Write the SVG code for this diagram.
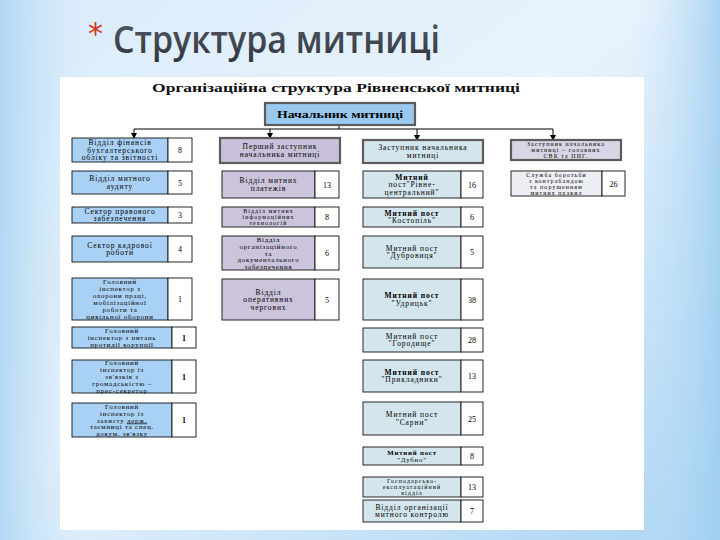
<svg xmlns="http://www.w3.org/2000/svg" width="720" height="540" viewBox="0 0 720 540">
<defs>
<linearGradient id="bg" x1="0" y1="0" x2="1" y2="1">
<stop offset="0" stop-color="#d9ecfa"/>
<stop offset="0.45" stop-color="#e8f3fc"/>
<stop offset="1" stop-color="#a9d3f3"/>
</linearGradient>
<linearGradient id="bgL" x1="0" y1="0" x2="1" y2="0">
<stop offset="0" stop-color="#a8d2f2" stop-opacity="0.8"/>
<stop offset="0.12" stop-color="#c9e4f8" stop-opacity="0"/>
<stop offset="0.88" stop-color="#c9e4f8" stop-opacity="0"/>
<stop offset="1" stop-color="#9ccdf1" stop-opacity="0.8"/>
</linearGradient>
<linearGradient id="tg" x1="0" y1="0" x2="0" y2="1">
<stop offset="0" stop-color="#5a606a"/>
<stop offset="1" stop-color="#2e333b"/>
</linearGradient>
<marker id="ah" viewBox="0 0 6 6" refX="5" refY="3" markerWidth="6" markerHeight="6" orient="auto" markerUnits="userSpaceOnUse">
<path d="M0,0 L6,3 L0,6 z" fill="#000"/>
</marker>
<style>
.t{font-family:"Liberation Serif","Times New Roman",serif;font-size:7.5px;letter-spacing:0.9px;fill:#000;text-anchor:middle}
.s{font-family:"Liberation Serif","Times New Roman",serif;font-size:6.8px;letter-spacing:0.8px;fill:#000;text-anchor:middle}
.x{font-family:"Liberation Serif","Times New Roman",serif;font-size:5.9px;letter-spacing:1.1px;fill:#000;text-anchor:middle}
.n{font-family:"Liberation Serif","Times New Roman",serif;font-size:8px;fill:#000;text-anchor:middle}
.h{font-family:"Liberation Serif","Times New Roman",serif;font-size:10px;font-weight:bold;fill:#000;text-anchor:middle}
.c1{fill:#a9d1f5;stroke:#111;stroke-width:0.9}
.c2{fill:#cbc4db;stroke:#111;stroke-width:0.9}
.c3{fill:#d3e6ee;stroke:#111;stroke-width:0.9}
.c4{fill:#eeeef5;stroke:#111;stroke-width:0.9}
.num{fill:#fff;stroke:#111;stroke-width:0.9}
.hd{stroke:#5c5c5c;stroke-width:2.2}
.ln{fill:none;stroke:#000;stroke-width:1}
</style>
</defs>
<rect width="720" height="540" fill="url(#bg)"/>
<rect width="720" height="540" fill="url(#bgL)"/>
<rect x="60" y="77" width="584" height="453" fill="#fff"/>

<g id="title">
<text x="88" y="44" font-family="'DejaVu Sans',sans-serif" font-size="30" fill="#d23a22">*</text>
<text x="113" y="53" font-family="'Open Sans','DejaVu Sans',sans-serif" font-size="38" font-weight="600" fill="url(#tg)" textLength="327" lengthAdjust="spacingAndGlyphs">Структура митниці</text>
</g>

<g id="subtitle">
<text x="336" y="92" font-family="'Liberation Serif','Times New Roman',serif" font-size="11.5" font-weight="bold" fill="#111" text-anchor="middle" textLength="368" lengthAdjust="spacingAndGlyphs">Організаційна структура Рівненської митниці</text>
</g>

<g id="connectors">
<path class="ln" d="M339,125 V129 M134,129 H553"/>
<path class="ln" d="M134,129 V138" marker-end="url(#ah)"/>
<path class="ln" d="M270,129 V138" marker-end="url(#ah)"/>
<path class="ln" d="M417,129 V140" marker-end="url(#ah)"/>
<path class="ln" d="M553,129 V140" marker-end="url(#ah)"/>
</g>

<g id="chief">
<rect x="265" y="103" width="150" height="22" fill="#99c9ee" class="hd"/>
<text x="340" y="117.8" class="h" textLength="126" lengthAdjust="spacingAndGlyphs">Начальник митниці</text>
</g>

<!-- Column 1 -->
<g id="n1-1">
<rect x="72" y="138" width="96" height="24" class="c1"/><rect x="168" y="138" width="24" height="24" class="num"/>
<text class="t" x="120" y="145">Відділ    фінансів</text><text class="t" x="120" y="152.5">бухгалтерського</text><text class="t" x="120" y="160">обліку та звітності</text>
<text class="n" x="180" y="153">8</text>
</g>
<g id="n1-2">
<rect x="72" y="171" width="96" height="23" class="c1"/><rect x="168" y="171" width="24" height="23" class="num"/>
<text class="t" x="120" y="181.3">Відділ митного</text><text class="t" x="120" y="188.8">аудиту</text>
<text class="n" x="180" y="185.5">5</text>
</g>
<g id="n1-3">
<rect x="72" y="207" width="96" height="16" class="c1"/><rect x="168" y="207" width="24" height="16" class="num"/>
<text class="t" x="120" y="213.8">Сектор правового</text><text class="t" x="120" y="221.3">забезпечення</text>
<text class="n" x="180" y="218">3</text>
</g>
<g id="n1-4">
<rect x="72" y="236" width="96" height="26" class="c1"/><rect x="168" y="236" width="24" height="26" class="num"/>
<text class="t" x="120" y="247.8">Сектор кадрової</text><text class="t" x="120" y="255.3">роботи</text>
<text class="n" x="180" y="252">4</text>
</g>
<g id="n1-5">
<rect x="72" y="278" width="96" height="42" class="c1"/><rect x="168" y="278" width="24" height="42" class="num"/>
<text class="s" x="120" y="284">Головний</text><text class="s" x="120" y="291">інспектор з</text><text class="s" x="120" y="298">охорони праці,</text><text class="s" x="120" y="305">мобілізаційної</text><text class="s" x="120" y="312">роботи та</text><text class="s" x="120" y="319">цивільної оборони</text>
<text class="n" x="180" y="302">1</text>
</g>
<g id="n1-6">
<rect x="72" y="327" width="100" height="21" class="c1"/><rect x="172" y="327" width="24" height="21" class="num"/>
<text class="s" x="122" y="333">Головний</text><text class="s" x="122" y="340">інспектор з питань</text><text class="s" x="122" y="347">протидії корупції</text>
<text class="n" x="184" y="340.5" font-weight="bold">1</text>
</g>
<g id="n1-7">
<rect x="72" y="360" width="100" height="33" class="c1"/><rect x="172" y="360" width="24" height="33" class="num"/>
<text class="s" x="122" y="365.4">Головний</text><text class="s" x="122" y="372.2">інспектор із</text><text class="s" x="122" y="379">зв'язків з</text><text class="s" x="122" y="385.8">громадськістю –</text><text class="s" x="122" y="392.6">прес-секретор</text>
<text class="n" x="184" y="379.5" font-weight="bold">1</text>
</g>
<g id="n1-8">
<rect x="72" y="403" width="100" height="34" class="c1"/><rect x="172" y="403" width="24" height="34" class="num"/>
<text class="s" x="122" y="408.9">Головний</text><text class="s" x="122" y="415.7">інспектор із</text><text class="s" x="122" y="422.5">захисту <tspan text-decoration="underline">держ.</tspan></text><text class="s" x="122" y="429.3">таємниці та спец.</text><text class="s" x="122" y="436.1">докум. зв'язку</text>
<text class="n" x="184" y="423" font-weight="bold">1</text>
</g>

<!-- Column 2 -->
<g id="n2-h">
<rect x="220" y="138" width="120" height="25" fill="#c9c1d9" class="hd"/>
<text class="t" x="280" y="149.3">Перший заступник</text><text class="t" x="280" y="156.8">начальника митниці</text>
</g>
<g id="n2-1">
<rect x="222" y="171" width="93" height="27" class="c2"/><rect x="315" y="171" width="24" height="27" class="num"/>
<text class="t" x="268.5" y="183.3">Відділ митних</text><text class="t" x="268.5" y="190.8">платежів</text>
<text class="n" x="327" y="187.5">13</text>
</g>
<g id="n2-2">
<rect x="222" y="207" width="93" height="20" class="c2"/><rect x="315" y="207" width="24" height="20" class="num"/>
<text class="x" x="268.5" y="212.8">Відділ митних</text><text class="x" x="268.5" y="219">інформаційних</text><text class="x" x="268.5" y="225.2">технологій</text>
<text class="n" x="327" y="220">8</text>
</g>
<g id="n2-3">
<rect x="222" y="236" width="93" height="34" class="c2"/><rect x="315" y="236" width="24" height="34" class="num"/>
<text class="s" x="268.5" y="241.9">Відділ</text><text class="s" x="268.5" y="248.7">організаційного</text><text class="s" x="268.5" y="255.5">та</text><text class="s" x="268.5" y="262.3">документального</text><text class="s" x="268.5" y="269.1">забезпечення</text>
<text class="n" x="327" y="256">6</text>
</g>
<g id="n2-4">
<rect x="222" y="279" width="93" height="41" class="c2"/><rect x="315" y="279" width="24" height="41" class="num"/>
<text class="t" x="268.5" y="294.5">Відділ</text><text class="t" x="268.5" y="302">оперативних</text><text class="t" x="268.5" y="309.5">чергових</text>
<text class="n" x="327" y="302.5">5</text>
</g>

<!-- Column 3 -->
<g id="n3-h">
<rect x="363" y="140" width="120" height="23" fill="#d3e6ee" class="hd"/>
<text class="t" x="423" y="150.3">Заступник начальника</text><text class="t" x="423" y="157.8">митниці</text>
</g>
<g id="n3-1">
<rect x="363" y="171" width="98" height="27" class="c3"/><rect x="461" y="171" width="22" height="27" class="num"/>
<text class="t" x="412" y="179.5" font-weight="bold">Митний</text><text class="t" x="412" y="187">пост"Рівне-</text><text class="t" x="412" y="194.5">центральний"</text>
<text class="n" x="472" y="187.5">16</text>
</g>
<g id="n3-2">
<rect x="363" y="207" width="98" height="20" class="c3"/><rect x="461" y="207" width="22" height="20" class="num"/>
<text class="t" x="412" y="215.8" font-weight="bold">Митний пост</text><text class="t" x="412" y="223.3">"Костопіль"</text>
<text class="n" x="472" y="220">6</text>
</g>
<g id="n3-3">
<rect x="363" y="236" width="98" height="32" class="c3"/><rect x="461" y="236" width="22" height="32" class="num"/>
<text class="t" x="412" y="250.8">Митний пост</text><text class="t" x="412" y="258.3">"Дубровиця"</text>
<text class="n" x="472" y="255">5</text>
</g>
<g id="n3-4">
<rect x="363" y="279" width="98" height="41" class="c3"/><rect x="461" y="279" width="22" height="41" class="num"/>
<text class="t" x="412" y="298.3" font-weight="bold">Митний пост</text><text class="t" x="412" y="305.8">"Удрицьк"</text>
<text class="n" x="472" y="302.5">38</text>
</g>
<g id="n3-5">
<rect x="363" y="328" width="98" height="24" class="c3"/><rect x="461" y="328" width="22" height="24" class="num"/>
<text class="t" x="412" y="338.8">Митний пост</text><text class="t" x="412" y="346.3">"Городище"</text>
<text class="n" x="472" y="343">28</text>
</g>
<g id="n3-6">
<rect x="363" y="360" width="98" height="32" class="c3"/><rect x="461" y="360" width="22" height="32" class="num"/>
<text class="t" x="412" y="374.8" font-weight="bold">Митний пост</text><text class="t" x="412" y="382.3">"Прикладники"</text>
<text class="n" x="472" y="379">13</text>
</g>
<g id="n3-7">
<rect x="363" y="402" width="98" height="33" class="c3"/><rect x="461" y="402" width="22" height="33" class="num"/>
<text class="t" x="412" y="417.3">Митний пост</text><text class="t" x="412" y="424.8">"Сарни"</text>
<text class="n" x="472" y="421.5">25</text>
</g>
<g id="n3-8">
<rect x="363" y="447" width="98" height="18" class="c3"/><rect x="461" y="447" width="22" height="18" class="num"/>
<text class="s" x="412" y="454.5" font-weight="bold">Митний пост</text><text class="s" x="412" y="461.5">"Дубно"</text>
<text class="n" x="472" y="459">8</text>
</g>
<g id="n3-9">
<rect x="363" y="477" width="98" height="20" class="c3"/><rect x="461" y="477" width="22" height="20" class="num"/>
<text class="x" x="412" y="482.8">Господарсько-</text><text class="x" x="412" y="489">експлуатаційний</text><text class="x" x="412" y="495.2">відділ</text>
<text class="n" x="472" y="490">13</text>
</g>
<g id="n3-10">
<rect x="363" y="500" width="98" height="22" class="c3"/><rect x="461" y="500" width="22" height="22" class="num"/>
<text class="t" x="412" y="509.8">Відділ організації</text><text class="t" x="412" y="517.3">митного контролю</text>
<text class="n" x="472" y="514">7</text>
</g>

<!-- Column 4 -->
<g id="n4-h">
<rect x="511" y="140" width="110" height="20" fill="#d8d5e4" class="hd"/>
<text class="x" x="566" y="146">Заступник начальника</text><text class="x" x="566" y="152.2">митниці – головних</text><text class="x" x="566" y="158.4">СВК та ПИГ.</text>
</g>
<g id="n4-1">
<rect x="511" y="171" width="91" height="25" class="c4"/><rect x="602" y="171" width="23" height="25" class="num"/>
<text class="x" x="556.5" y="176.6">Служба боротьби</text><text class="x" x="556.5" y="182.8">з контрабандою</text><text class="x" x="556.5" y="189">та порушенням</text><text class="x" x="556.5" y="195.2">митних правил</text>
<text class="n" x="613.5" y="186.5">26</text>
</g>
</svg>
